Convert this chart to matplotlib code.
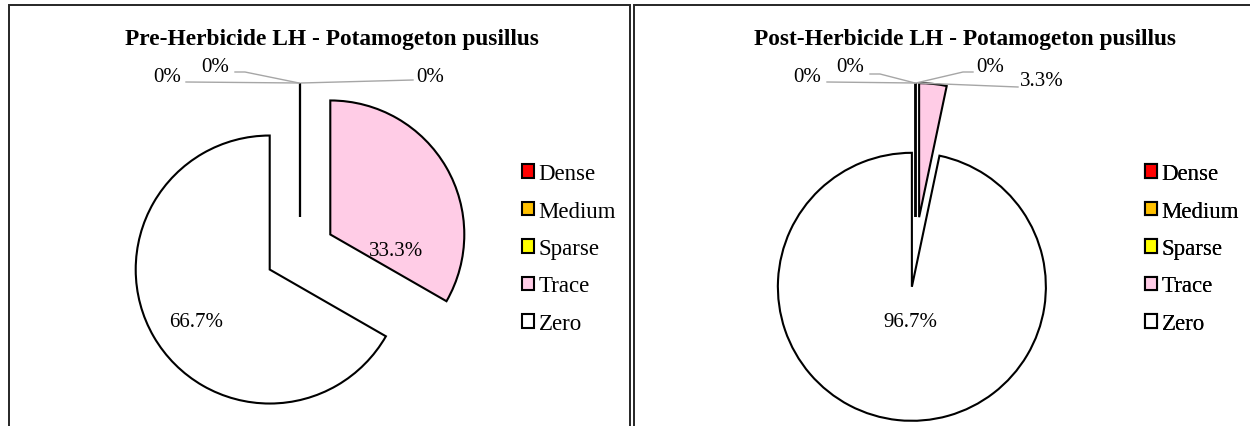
import matplotlib
matplotlib.use("Agg")
import matplotlib.pyplot as plt
from matplotlib.patches import Rectangle

W, H = 1250, 427
plt.rcParams['font.family'] = ['Liberation Serif', 'DejaVu Serif']

# data
categories = ["Dense", "Medium", "Sparse", "Trace", "Zero"]
colors = ["#FF0000", "#FFC000", "#FFFF00", "#FFCCE6", "#FFFFFF"]
pre_values = [0, 0, 0, 33.3, 66.7]
post_values = [0, 0, 0, 3.3, 96.7]
pre_labels = ["0%", "0%", "0%", "33.3%", "66.7%"]
post_labels = ["0%", "0%", "0%", "3.3%", "96.7%"]
titles = ["Pre-Herbicide LH - Potamogeton pusillus",
          "Post-Herbicide LH - Potamogeton pusillus"]

# layout (pixels, y measured from top)
panels = [(9, 630), (634, 1262)]
centers = [(300, 253), (915.5, 253)]
radius = 134
explode = 35
title_pos = [(125, 45.5), (754, 45.5)]
legend_pos = [(522, 164), (1145, 164)]
pre_label_pos = [(167, 77), (215, 67), (430, 77), (396, 252), (196, 323)]
post_label_pos = [(807, 77), (850, 68), (990, 68), (1042, 82), (910, 323)]
pre_leaders = [[(186, 83), (299, 84)],
               [(235, 73), (245, 73), (299, 84)],
               [(301, 84), (413, 81)]]
post_leaders = [[(827, 83), (915, 84)],
                [(870, 75), (880, 75), (915, 84)],
                [(916, 84), (963, 73), (973, 73)],
                [(918, 84), (1018, 88)]]

fig = plt.figure(figsize=(W / 100, H / 100), dpi=100)
ax = fig.add_axes([0, 0, 1, 1])


def Y(y):
    return H - y


panel_data = [(pre_values, pre_labels, pre_label_pos, pre_leaders),
              (post_values, post_labels, post_label_pos, post_leaders)]

for i, (vals, labs, lpos, leaders) in enumerate(panel_data):
    x0, x1 = panels[i]
    ax.add_patch(Rectangle((x0, Y(H + 20)), x1 - x0, H + 20 - 6, fill=False,
                           edgecolor="#262626", linewidth=1.4))
    cx, cy = centers[i]
    wedges, _ = ax.pie(vals, colors=colors, startangle=90, counterclock=False,
                       radius=radius, center=(cx, Y(cy)),
                       explode=[explode] * len(vals),
                       wedgeprops=dict(edgecolor="black", linewidth=1.5))
    for pts in leaders:
        ax.plot([p[0] for p in pts], [Y(p[1]) for p in pts],
                color="#A6A6A6", linewidth=1.0)
    for lab, (tx, ty) in zip(labs, lpos):
        ax.text(tx, Y(ty), lab, ha="center", va="center", fontsize=15)
    tx, ty = title_pos[i]
    ax.text(tx, Y(ty), titles[i], ha="left", va="baseline", fontsize=16.8,
            fontweight="bold")
    lx, ly = legend_pos[i]
    leg = ax.legend(wedges, categories, loc="upper left",
                    bbox_to_anchor=(lx, Y(ly)), bbox_transform=ax.transData,
                    frameon=False, fontsize=16.5, handlelength=0.52,
                    handleheight=0.52, handletextpad=0.2, labelspacing=0.72,
                    borderpad=0, borderaxespad=0)
    ax.add_artist(leg)

ax.set_xlim(0, W)
ax.set_ylim(0, H)
ax.set_aspect("auto")
ax.axis("off")

plt.savefig("out.png", dpi=100)
